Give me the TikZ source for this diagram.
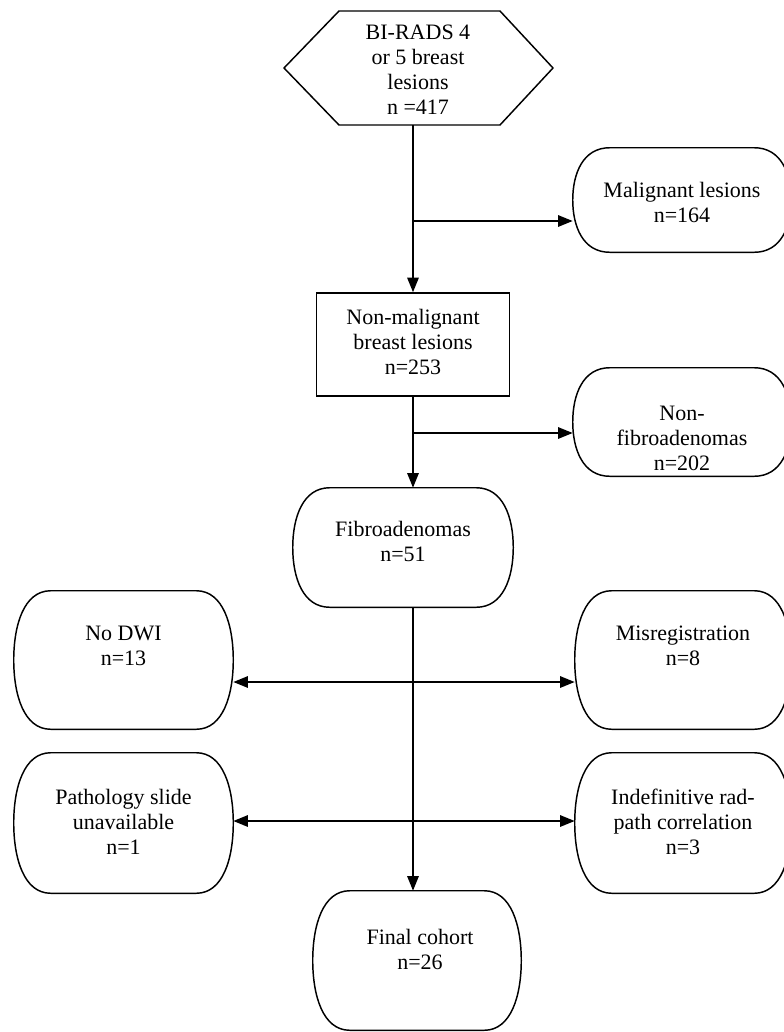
\documentclass[tikz,border=0pt]{standalone}
\usepackage{fontspec}
\setmainfont{Liberation Serif}
\usetikzlibrary{arrows.meta,calc}
\newcommand\termoutline[1]{%
 \draw[boxline] ($(#1.north west)+(37,0)$) -- ($(#1.north east)+(-37,0)$)
  .. controls ($(#1.north east)+(-10,0)$) and ($(#1.north east)!0.5!(#1.east)$) .. (#1.east)
  .. controls ($(#1.south east)!0.5!(#1.east)$) and ($(#1.south east)+(-10,0)$) .. ($(#1.south east)+(-37,0)$)
  -- ($(#1.south west)+(37,0)$)
  .. controls ($(#1.south west)+(10,0)$) and ($(#1.south west)!0.5!(#1.west)$) .. (#1.west)
  .. controls ($(#1.north west)!0.5!(#1.west)$) and ($(#1.north west)+(10,0)$) .. ($(#1.north west)+(37,0)$);}
\begin{document}
\begin{tikzpicture}[x=0.75pt,y=-0.75pt,
  txt/.style={font=\fontsize{16.5}{18.75}\selectfont, align=center, inner sep=0pt},
  boxline/.style={line width=1.1pt, line join=round, line cap=round},
  term/.style={draw=none, inner sep=0pt},
  conn/.style={line width=1.5pt},
  arr/.style={conn, -{Triangle[length=11pt,width=8.5pt]}},
  darr/.style={conn, {Triangle[length=11pt,width=8.5pt]}-{Triangle[length=11pt,width=8.5pt]}}
]
\useasboundingbox (0,0) rectangle (784,1032);
\fill[white] (0,0) rectangle (784,1032);

% hexagon
\draw[boxline] (339,11) -- (500,11) -- (553,68) -- (500,125) -- (339,125) -- (284,68) -- cycle;
\node[txt] (hex) at (418,70) {BI-RADS 4\\or 5 breast\\lesions\\n =417};
\coordinate (hexb) at (413,125);

% boxes
\node[term, minimum width=163.5pt, minimum height=78pt] (mal) at (682,200) {};
\node[txt] (malt) at (682,202) {Malignant lesions\\n=164};

\node[draw, line width=1.1pt, minimum width=144.75pt, minimum height=77.25pt, inner sep=0pt] (nonmal) at (413,344.5) {};
\node[txt] (nonmalt) at (413,342) {Non-malignant\\breast lesions\\n=253};

\node[term, minimum width=163.5pt, minimum height=81pt] (nonf) at (682,422) {};
\node[txt] (nonft) at (682,438) {Non-\\fibroadenomas\\n=202};

\node[term, minimum width=165pt, minimum height=89.25pt] (fibro) at (403,547.5) {};
\node[txt] (fibrot) at (403,541) {Fibroadenomas\\n=51};

\node[term, minimum width=164.25pt, minimum height=103.5pt] (nodw) at (123.5,660) {};
\node[txt] (nodwt) at (123.5,646) {No DWI\\n=13};

\node[term, minimum width=162pt, minimum height=103.5pt] (misr) at (683,660) {};
\node[txt] (misrt) at (683,646) {Misregistration\\n=8};

\node[term, minimum width=164.25pt, minimum height=105pt] (patho) at (123.5,823) {};
\node[txt] (pathot) at (123.5,822) {Pathology slide\\unavailable\\n=1};

\node[term, minimum width=162pt, minimum height=105pt] (indef) at (683,823) {};
\node[txt] (indeft) at (683,822) {Indefinitive rad-\\path correlation\\n=3};

\node[term, minimum width=156pt, minimum height=104.25pt] (final) at (417,960.5) {};
\node[txt] (finalt) at (420,949.5) {Final cohort\\n=26};

\termoutline{mal}
\termoutline{nonf}
\termoutline{fibro}
\termoutline{nodw}
\termoutline{misr}
\termoutline{patho}
\termoutline{indef}
\termoutline{final}

% connectors
\coordinate (b1) at (413,221);
\coordinate (b2) at (413,433);
\coordinate (fb) at (413,607);
\coordinate (b3) at (413,682);
\coordinate (b4) at (413,821);
\draw[arr] (hexb) -- (nonmal.north);
\draw[arr] (b1) -- (b1 -| mal.west);
\draw[arr] (nonmal.south) -- (nonmal.south |- fibro.north);
\draw[arr] (b2) -- (b2 -| nonf.west);
\draw[arr] (fb) -- (fb |- final.north);
\draw[darr] (b3 -| nodw.east) -- (b3 -| misr.west);
\draw[darr] (b4 -| patho.east) -- (b4 -| indef.west);
\end{tikzpicture}
\end{document}
